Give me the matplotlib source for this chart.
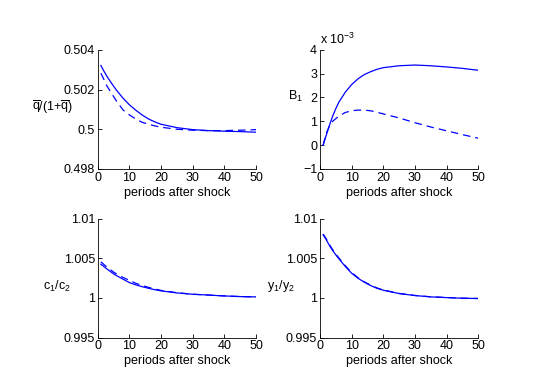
import matplotlib.pyplot as plt
import numpy as np

plt.rcParams['font.family'] = ['Liberation Sans', 'DejaVu Sans']
plt.rcParams['font.size'] = 9
plt.rcParams['mathtext.fontset'] = 'custom'
plt.rcParams['mathtext.rm'] = 'Liberation Sans'
plt.rcParams['mathtext.it'] = 'Liberation Sans'

periods = [1, 2, 3, 4, 5, 6, 8, 10, 12, 14, 16, 18, 20, 25, 30, 35, 40, 45, 50]

# q/(1+q)
q_solid = [0.50321, 0.50291, 0.50264, 0.50240, 0.50217, 0.50195, 0.50156, 0.50123, 0.50096, 0.50072,
           0.50052, 0.50037, 0.50025, 0.50008, 0.49998, 0.49993, 0.49990, 0.49988, 0.49985]
q_dash = [0.50282, 0.50249, 0.50215, 0.50190, 0.50165, 0.50140, 0.50097, 0.50072, 0.50052, 0.50035,
          0.50025, 0.50017, 0.50010, 0.50000, 0.49995, 0.49993, 0.49993, 0.49995, 0.49998]

# B1 (x 1e-3)
b_solid = [0.0, 0.42, 0.83, 1.21, 1.53, 1.81, 2.22, 2.54, 2.78, 2.96, 3.08, 3.18, 3.25, 3.33, 3.36,
           3.33, 3.28, 3.22, 3.14]
b_dash = [0.0, 0.50, 0.80, 1.00, 1.11, 1.22, 1.37, 1.44, 1.47, 1.47, 1.44, 1.38, 1.31, 1.14, 0.94,
          0.76, 0.60, 0.44, 0.29]

# c1/c2
c_solid = [1.00426, 1.00394, 1.00363, 1.00333, 1.00304, 1.00280, 1.00236, 1.00194, 1.00165, 1.00142,
           1.00122, 1.00104, 1.00089, 1.00063, 1.00046, 1.00036, 1.00025, 1.00017, 1.00013]
c_dash = [1.00456, 1.00420, 1.00388, 1.00356, 1.00326, 1.00302, 1.00258, 1.00222, 1.00185, 1.00158,
          1.00134, 1.00113, 1.00095, 1.00066, 1.00047, 1.00036, 1.00025, 1.00017, 1.00012]

# y1/y2
y_solid = [1.00797, 1.00734, 1.00662, 1.00599, 1.00544, 1.00494, 1.00397, 1.00312, 1.00249, 1.00198,
           1.00156, 1.00122, 1.00097, 1.00055, 1.00030, 1.00013, 1.00004, 0.99996, 0.99992]
y_dash = [1.00807, 1.00745, 1.00673, 1.00610, 1.00555, 1.00504, 1.00407, 1.00320, 1.00256, 1.00204,
          1.00161, 1.00126, 1.00100, 1.00057, 1.00031, 1.00014, 1.00005, 0.99997, 0.99993]

panels = [
    (q_solid, q_dash, r'$\overline{\mathrm{q}}$/(1+$\overline{\mathrm{q}}$)', (0.498, 0.504),
     [0.498, 0.5, 0.502, 0.504], ['0.498', '0.5', '0.502', '0.504'], (-0.156, 0.52)),
    (b_solid, b_dash, r'B$_1$', (-1, 4), [-1, 0, 1, 2, 3, 4],
     ['\u22121', '0', '1', '2', '3', '4'], (-0.107, 0.61)),
    (c_solid, c_dash, r'c$_1$/c$_2$', (0.995, 1.01), [0.995, 1, 1.005, 1.01],
     ['0.995', '1', '1.005', '1.01'], (-0.169, 0.43)),
    (y_solid, y_dash, r'y$_1$/y$_2$', (0.995, 1.01), [0.995, 1, 1.005, 1.01],
     ['0.995', '1', '1.005', '1.01'], (-0.158, 0.43)),
]

rects = [[0.179, 0.569, 0.290, 0.304], [0.586, 0.569, 0.290, 0.304],
         [0.179, 0.139, 0.290, 0.303], [0.586, 0.139, 0.290, 0.303]]

fig = plt.figure(figsize=(5.46, 3.92), dpi=100)

for (solid, dash, label, ylim, yt, ytl, lpos), rect in zip(panels, rects):
    ax = fig.add_axes(rect)
    ax.plot(periods, solid, color='blue', lw=0.9)
    ax.plot(periods, dash, color='blue', lw=0.9, dashes=(6, 4))
    ax.set_xlim(0, 50)
    ax.set_ylim(*ylim)
    ax.set_xticks([0, 10, 20, 30, 40, 50])
    ax.set_yticks(yt)
    ax.set_yticklabels(ytl)
    ax.spines['top'].set_visible(False)
    ax.spines['right'].set_visible(False)
    ax.tick_params(direction='in', length=3, width=0.6, pad=2)
    for s in ['left', 'bottom']:
        ax.spines[s].set_linewidth(0.6)
    ax.set_xlabel('periods after shock', labelpad=2)
    ax.set_ylabel(label, rotation=0, ha='right', va='center')
    ax.yaxis.set_label_coords(*lpos)
    if label == r'B$_1$':
        ax.text(0.0, 1.02, r'x 10$^{-3}$', transform=ax.transAxes, ha='left', va='bottom')

fig.savefig('out.png', dpi=100)
